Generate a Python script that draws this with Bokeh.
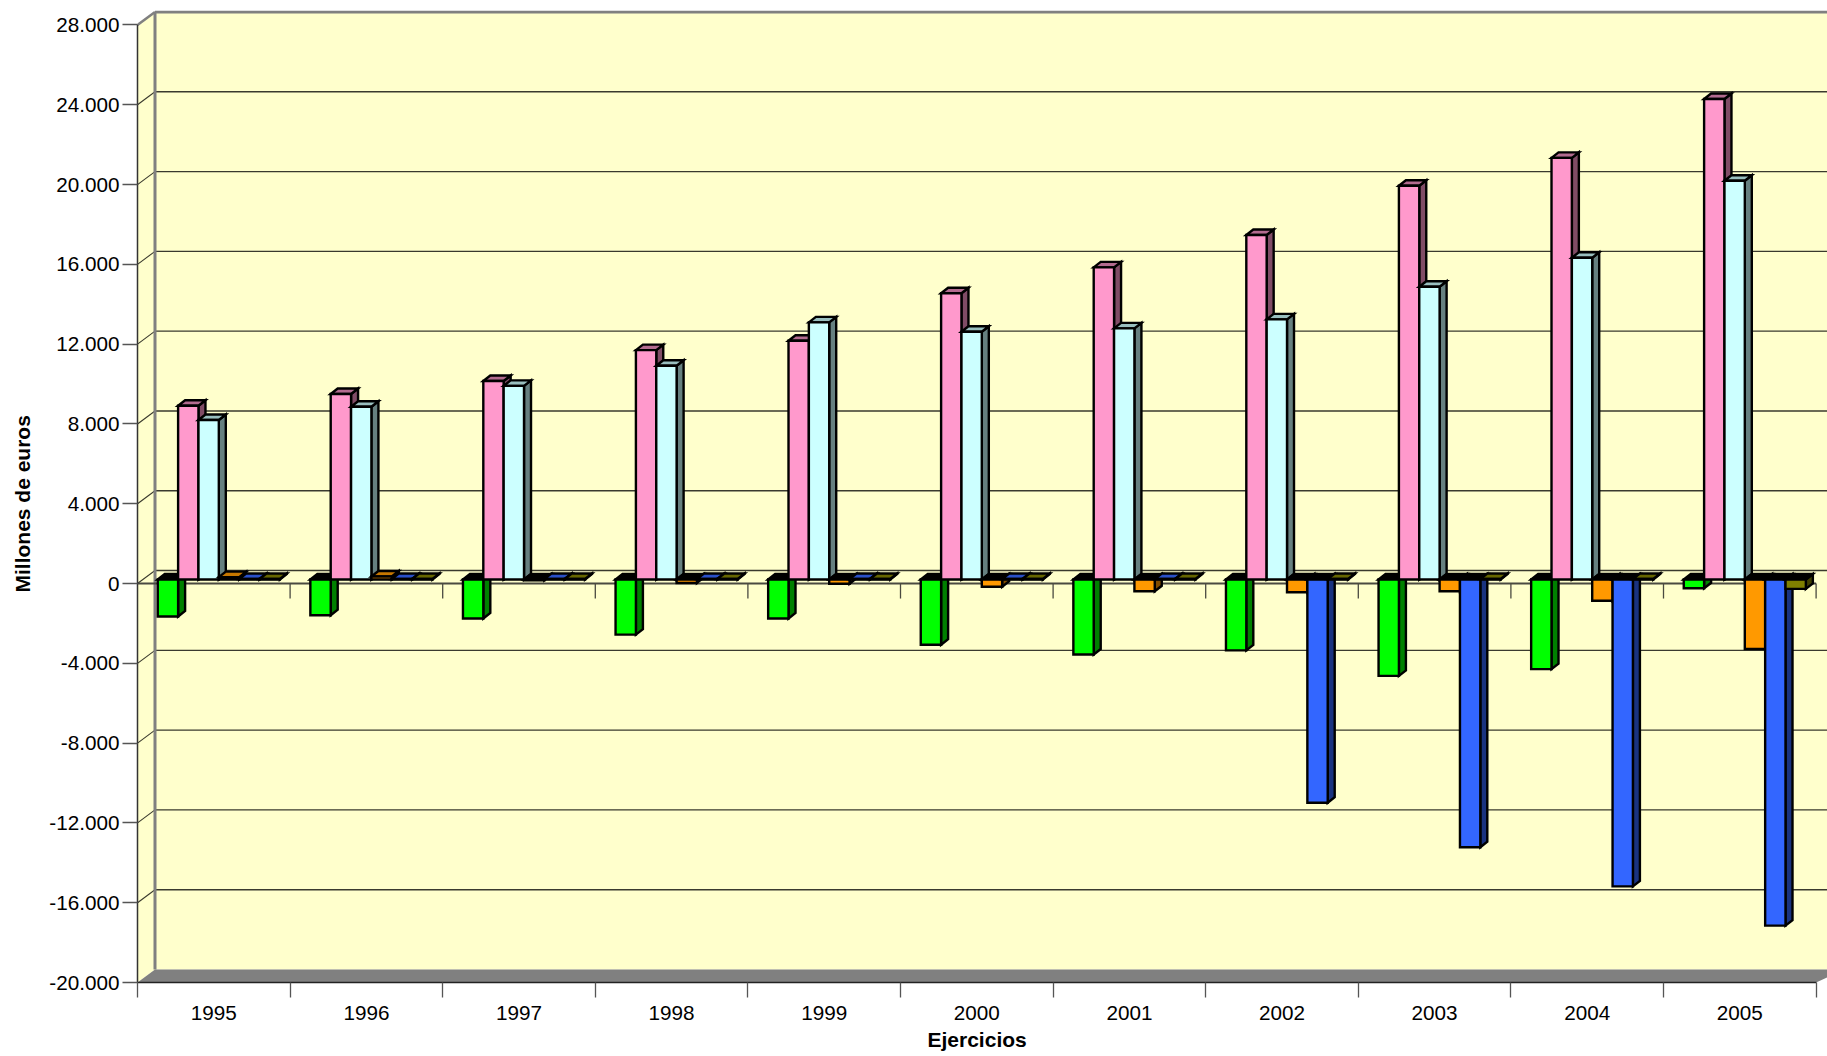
from bokeh.plotting import figure
from bokeh.models import FixedTicker, Range1d, Title
from bokeh.embed import file_html
from bokeh.resources import INLINE

years = ["1995","1996","1997","1998","1999","2000","2001","2002","2003","2004","2005"]
green  = [-1850,-1790,-1950,-2760,-1950,-3270,-3760,-3550,-4830,-4490,-440]
pink   = [8710,9300,9950,11500,11970,14350,15650,17270,19740,21140,24090]
cyan   = [8000,8660,9710,10720,12890,12420,12590,13040,14680,16130,19990]
orange = [120,150,-40,-170,-210,-360,-590,-640,-590,-1060,-3480]
blue   = [30,30,30,30,30,30,30,-11190,-13420,-15380,-17350]
olive  = [30,30,30,30,30,30,30,30,30,30,-470]

y_ticks = [28000,24000,20000,16000,12000,8000,4000,0,-4000,-8000,-12000,-16000,-20000]
y_tick_labels = ["28.000","24.000","20.000","16.000","12.000","8.000","4.000","0",
                 "-4.000","-8.000","-12.000","-16.000","-20.000"]

series = [green, pink, cyan, orange, blue, olive]
front_col = ["#00FF00","#FF99CC","#CCFFFF","#FF9900","#3366FF","#808000"]
side_col  = ["#008000","#804C66","#668080","#804C00","#1A3380","#404000"]
top_col   = ["#00B300","#B36B8F","#99BFBF","#C67700","#2A50C8","#666600"]

WALL = "#FFFFCC"
GREY = "#808080"
GRID = "#3A3A2E"
FONT = "Liberation Sans"

PX = 152.6            # pixels per category
PY = 0.019948         # pixels per value unit
DX, DY = 17.5/PX, 13/PY      # wall depth
BD, BH = 7/PX, 5.5/PY        # bar depth
BW = 20.35/PX                # bar width
GAP = 15.26/PX               # gap at group side
SX, SY = 5/PX, 4/PY          # bar plane shift
XMAX = 1690/PX
YMIN, YMAX = -20000, -20000 + 972/PY
N = len(years)

p = figure(width=1827, height=1056, output_backend="svg", toolbar_location=None,
           x_range=Range1d(0, XMAX), y_range=Range1d(YMIN, YMAX),
           min_border_left=137, min_border_right=0, min_border_top=10, min_border_bottom=74)
p.grid.visible = False
p.outline_line_color = None
p.background_fill_color = "white"
p.border_fill_color = "white"

# walls and floor
p.patch([DX, XMAX, XMAX, DX], [YMIN+DY, YMIN+DY, 28000+DY, 28000+DY], fill_color=WALL, line_color=None)
p.patch([0, DX, DX, 0], [YMIN, YMIN+DY, 28000+DY, 28000], fill_color=WALL, line_color=None)
p.patch([0, DX, XMAX+DX, N], [YMIN, YMIN+DY, YMIN+DY, YMIN], fill_color=GREY, line_color=None)

# grid
gt = [t for t in y_ticks if t not in (28000, -20000)]
p.segment([DX]*len(gt), [t+DY for t in gt], [XMAX]*len(gt), [t+DY for t in gt], line_color=GRID, line_width=1.4)
p.segment([0]*len(gt), gt, [DX]*len(gt), [t+DY for t in gt], line_color=GRID, line_width=1.1)

# back wall frame
p.line([DX, DX], [YMIN+DY, 28000+DY], line_color=GREY, line_width=3)
p.line([DX, XMAX], [28000+DY, 28000+DY], line_color=GREY, line_width=3)
p.line([0, DX], [28000, 28000+DY], line_color=GREY, line_width=2.5)

# zero plane
p.line([0, N], [0, 0], line_color="#4A4A40", line_width=2)
bx = list(range(1, N+1))
p.segment(bx, [0]*N, bx, [-15/PY]*N, line_color="#4A4A40", line_width=1.3)

# bars
xs, ys, fills = [], [], []
for i in range(N):
    for j, s in enumerate(series):
        v = s[i]
        x0 = i + GAP + SX + j*BW
        x1 = x0 + BW
        lo, hi = min(0, v)+SY, max(0, v)+SY
        xs.append([x1, x1+BD, x1+BD, x1]); ys.append([lo, lo+BH, hi+BH, hi]); fills.append(side_col[j])
        xs.append([x0, x0+BD, x1+BD, x1]); ys.append([hi, hi+BH, hi+BH, hi]); fills.append("#000000" if v < 0 else top_col[j])
        xs.append([x0, x1, x1, x0]); ys.append([lo, lo, hi, hi]); fills.append(front_col[j])
p.patches(xs, ys, fill_color=fills, line_color="#000000", line_width=2.4, line_join="miter")

# axes
ya = p.yaxis[0]
ya.ticker = FixedTicker(ticks=y_ticks)
ya.major_label_overrides = dict(zip(y_ticks, y_tick_labels))
ya.bounds = (YMIN, 28000)
ya.major_tick_out = 15
ya.major_tick_in = 0
ya.minor_tick_out = 0
ya.minor_tick_in = 0
ya.major_tick_line_color = "#555555"
ya.major_tick_line_width = 1.3
ya.axis_line_color = "#333333"
ya.axis_line_width = 1.5
ya.major_label_standoff = 3
ya.major_label_text_font = FONT
ya.major_label_text_font_size = "20.7px"
ya.major_label_text_color = "black"

xa = p.xaxis[0]
centres = [i + 0.5 for i in range(N)]
xa.ticker = FixedTicker(ticks=centres, minor_ticks=list(range(N+1)))
xa.major_label_overrides = dict(zip(centres, years))
xa.bounds = (0, N)
xa.major_tick_out = 0
xa.major_tick_in = 0
xa.minor_tick_out = 15
xa.minor_tick_in = 0
xa.minor_tick_line_color = "#555555"
xa.minor_tick_line_width = 1.3
xa.axis_line_color = "#222222"
xa.axis_line_width = 1.5
xa.major_label_standoff = 8
xa.major_label_text_font = FONT
xa.major_label_text_font_size = "20.7px"
xa.major_label_text_color = "black"

# the axis title sits low under the tick labels: its standoff keeps that distance
p.add_layout(Title(text="Ejercicios", text_font=FONT, text_font_size="21px", text_font_style="bold",
                   text_color="black", align="left", offset=790, standoff=7), "below")
p.add_layout(Title(text="Millones de euros", text_font=FONT, text_font_size="21px", text_font_style="bold",
                   text_color="black", align="left", vertical_align="top", offset=390, standoff=21), "left")

open("out.html", "w").write(file_html(p, INLINE))
